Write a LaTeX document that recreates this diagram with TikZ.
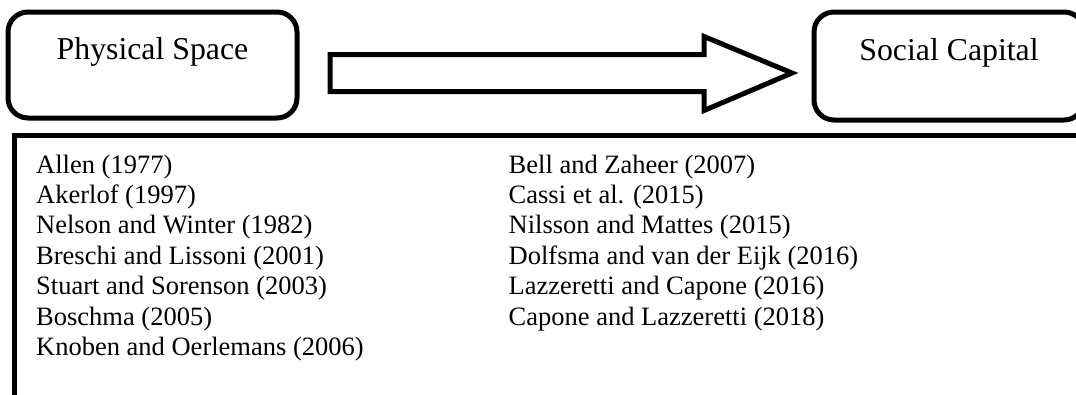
\documentclass[tikz,border=0pt]{standalone}
\usepackage{fontspec}
\setmainfont{Liberation Serif}
\begin{document}
\begin{tikzpicture}[x=1pt, y=-1pt,
		box/.style={draw, line width=5pt, rounded corners=20pt, minimum width=289pt, minimum height=106pt, inner sep=0pt, text height=20pt, text depth=32pt, font=\fontsize{31.8}{38}\selectfont},
		entry/.style={anchor=base west, inner sep=0pt, font=\fontsize{26.5}{30}\selectfont}]
		\useasboundingbox (0,0) rectangle (1076,394);
		\clip (0,0) rectangle (1076,394);
		\node[box](phys) at (152.5,65) {Physical Space};
		\node[box, minimum width=270pt, minimum height=108pt](social) at (949,66) {Social Capital};
		% block arrow between the two boxes
		\coordinate (tail) at (330,73);
		\coordinate (tip) at (792,73);
		\draw[line width=5pt] (tail) ++(0,-18.5) -- ++(374,0) -- ++(0,-18) -- (tip) -- ++(-88,37.5) -- ++(0,-19) -- ++(-374,0) -- cycle;
		% frame of the reference list
		\draw[line width=5pt] (14,410) |- (1100,135);
		\node[entry](allen) at (36,173) {Allen (1977)};
		\node[entry](akerlof) at (36,203.4) {Akerlof (1997)};
		\node[entry](nelson) at (36,233.8) {Nelson and Winter (1982)};
		\node[entry](breschi) at (36,264.2) {Breschi and Lissoni (2001)};
		\node[entry](stuart) at (36,294.6) {Stuart and Sorenson (2003)};
		\node[entry](boschma) at (36,325) {Boschma (2005)};
		\node[entry](knoben) at (36,355.4) {Knoben and Oerlemans (2006)};
		\node[entry](bell) at (508.5,173) {Bell and Zaheer (2007)};
		\node[entry](cassi) at (508.5,203.4) {Cassi et al. (2015)};
		\node[entry](nilsson) at (508.5,233.8) {Nilsson and Mattes (2015)};
		\node[entry](dolfsma) at (508.5,264.2) {Dolfsma and van der Eijk (2016)};
		\node[entry](lazzeretti) at (508.5,294.6) {Lazzeretti and Capone (2016)};
		\node[entry](capone) at (508.5,325) {Capone and Lazzeretti (2018)};
	\end{tikzpicture}
\end{document}
